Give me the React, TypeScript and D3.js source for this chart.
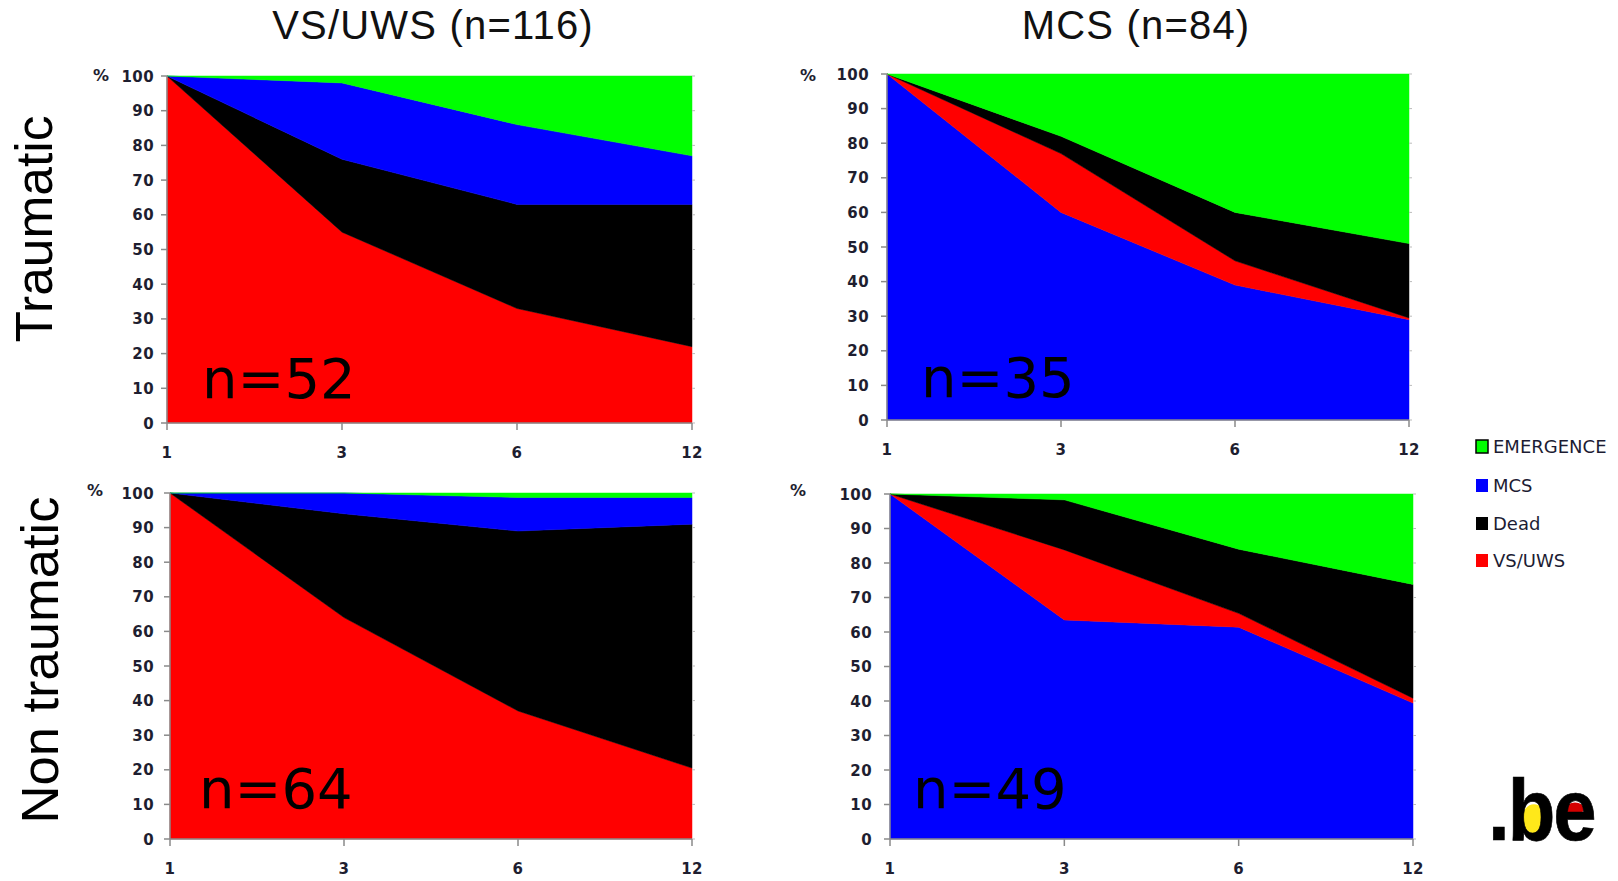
import React from "react";
import * as d3 from "d3";

// ---- data ----
const months = ["1", "3", "6", "12"];
const yTicks = [0, 10, 20, 30, 40, 50, 60, 70, 80, 90, 100];

const seriesNames = ["EMERGENCE", "MCS", "Dead", "VS/UWS"];
const seriesColors: Record<string, string> = {
  EMERGENCE: "#00ff00",
  MCS: "#0000ff",
  Dead: "#000000",
  "VS/UWS": "#ff0000",
};

// VS/UWS at entry, traumatic (n=52)
const trVsVs = [100, 55, 33, 22];
const trVsDead = [0, 21, 30, 41];
const trVsMcs = [0, 22, 23, 14];
const trVsEm = [0, 2, 14, 23];

// MCS at entry, traumatic (n=35)
const trMcsMcs = [100, 60, 39, 29];
const trMcsVs = [0, 17, 7, 0.5];
const trMcsDead = [0, 5, 14, 21.5];
const trMcsEm = [0, 18, 40, 49];

// VS/UWS at entry, non traumatic (n=64)
const ntVsVs = [100, 64, 37, 20.5];
const ntVsDead = [0, 30, 52, 70.5];
const ntVsMcs = [0, 6, 9.7, 7.7];
const ntVsEm = [0, 0, 1.3, 1.3];

// MCS at entry, non traumatic (n=49)
const ntMcsMcs = [100, 63.5, 61.4, 39.4];
const ntMcsVs = [0, 20.3, 4, 1.4];
const ntMcsDead = [0, 14.5, 18.6, 33];
const ntMcsEm = [0, 1.7, 16, 26.2];

const colTitles = ["VS/UWS (n=116)", "MCS (n=84)"];
const rowTitles = ["Traumatic", "Non traumatic"];

type Series = { name: string; values: number[] };

type PanelProps = {
  left: number;
  right: number;
  top: number;
  bottom: number;
  series: Series[]; // bottom -> top
  nLabel: string;
  nX: number;
  nY: number;
  pctX: number;
  pctY: number;
  labelGap: number;
};

const axisColor = "#8a8a8a";
const labelColor = "#1e1e30";
const tickFont = "'DejaVu Sans', Verdana, sans-serif";

function Panel(p: PanelProps) {
  const x = d3.scalePoint<string>().domain(months).range([p.left, p.right]);
  const y = d3.scaleLinear().domain([0, 100]).range([p.bottom, p.top]);
  const table = months.map((m, i) => {
    const row: Record<string, any> = { month: m };
    p.series.forEach((s) => (row[s.name] = s.values[i]));
    return row;
  });
  const stack = d3.stack<Record<string, any>>().keys(p.series.map((s) => s.name));
  const layers = stack(table);
  const area = d3
    .area<any>()
    .x((d) => x(d.data.month) as number)
    .y0((d) => y(d[0]))
    .y1((d) => y(d[1]));

  return (
    <g>
      {layers.map((l) => (
        <path key={l.key} d={area(l) || ""} fill={seriesColors[l.key]} stroke={seriesColors[l.key]} strokeWidth={0.5} />
      ))}
      {/* y axis */}
      <line x1={p.left} x2={p.left} y1={y(0)} y2={y(100)} stroke={axisColor} strokeWidth={1.5} />
      {yTicks.map((t) => (
        <g key={t}>
          <line x1={p.left - 6} x2={p.left} y1={y(t)} y2={y(t)} stroke={axisColor} strokeWidth={1.5} />
          <line x1={p.right} x2={p.right + 3} y1={y(t)} y2={y(t)} stroke="#bbbbbb" strokeWidth={1} />
          <text
            x={p.left - p.labelGap}
            y={y(t) + 5.5}
            textAnchor="end"
            fontFamily={tickFont}
            fontWeight="bold"
            fontSize={15}
            letterSpacing={0.4}
            fill={labelColor}
          >
            {t}
          </text>
        </g>
      ))}
      {/* x axis */}
      <line x1={p.left} x2={p.right} y1={y(0)} y2={y(0)} stroke={axisColor} strokeWidth={1.5} />
      {months.map((m) => (
        <g key={m}>
          <line x1={x(m)} x2={x(m)} y1={y(0)} y2={y(0) + 7} stroke={axisColor} strokeWidth={1.5} />
          <text
            x={x(m)}
            y={y(0) + 35}
            textAnchor="middle"
            fontFamily={tickFont}
            fontWeight="bold"
            fontSize={15}
            letterSpacing={0.4}
            fill={labelColor}
          >
            {m}
          </text>
        </g>
      ))}
      <text x={p.pctX} y={p.pctY} fontFamily={tickFont} fontWeight="bold" fontSize={16} fill={labelColor}>
        %
      </text>
      <text x={p.nX} y={p.nY} fontFamily="'DejaVu Sans', Verdana, sans-serif" fontSize={56} fill="#000">
        {p.nLabel}
      </text>
    </g>
  );
}

export default function App() {
  const W = 1618;
  const H = 881;
  const legendY = [447, 486, 524, 561];
  return (
    <svg width={W} height={H} style={{ position: "absolute", left: 0, top: 0, background: "#fff" }}>
      <rect x={0} y={0} width={W} height={H} fill="#fff" />
      {/* column titles */}
      <text x={433} y={39} textAnchor="middle" fontFamily="'Liberation Sans', Arial, sans-serif" fontSize={40} letterSpacing={1.2} fill="#111">
        {colTitles[0]}
      </text>
      <text x={1136} y={39} textAnchor="middle" fontFamily="'Liberation Sans', Arial, sans-serif" fontSize={40} letterSpacing={1.2} fill="#111">
        {colTitles[1]}
      </text>
      {/* row titles */}
      <text transform="translate(52,229) rotate(-90)" textAnchor="middle" fontFamily="'Liberation Sans', Arial, sans-serif" fontSize={51.5} fill="#000">
        {rowTitles[0]}
      </text>
      <text transform="translate(58,660) rotate(-90)" textAnchor="middle" fontFamily="'Liberation Sans', Arial, sans-serif" fontSize={52.5} fill="#000">
        {rowTitles[1]}
      </text>

      <Panel
        left={167} right={692} top={76} bottom={423}
        series={[
          { name: "VS/UWS", values: trVsVs },
          { name: "Dead", values: trVsDead },
          { name: "MCS", values: trVsMcs },
          { name: "EMERGENCE", values: trVsEm },
        ]}
        nLabel="n=52" nX={202} nY={398} pctX={93} pctY={81} labelGap={13}
      />
      <Panel
        left={887} right={1409} top={74} bottom={420}
        series={[
          { name: "MCS", values: trMcsMcs },
          { name: "VS/UWS", values: trMcsVs },
          { name: "Dead", values: trMcsDead },
          { name: "EMERGENCE", values: trMcsEm },
        ]}
        nLabel="n=35" nX={921} nY={397} pctX={800} pctY={81} labelGap={18}
      />
      <Panel
        left={170} right={692} top={493} bottom={839}
        series={[
          { name: "VS/UWS", values: ntVsVs },
          { name: "Dead", values: ntVsDead },
          { name: "MCS", values: ntVsMcs },
          { name: "EMERGENCE", values: ntVsEm },
        ]}
        nLabel="n=64" nX={199} nY={808} pctX={87} pctY={496} labelGap={16}
      />
      <Panel
        left={890} right={1413} top={494} bottom={839}
        series={[
          { name: "MCS", values: ntMcsMcs },
          { name: "VS/UWS", values: ntMcsVs },
          { name: "Dead", values: ntMcsDead },
          { name: "EMERGENCE", values: ntMcsEm },
        ]}
        nLabel="n=49" nX={913} nY={808} pctX={790} pctY={496} labelGap={18}
      />

      {/* legend */}
      {seriesNames.map((s, i) => (
        <g key={s}>
          <rect
            x={1476} y={legendY[i] - 7} width={12} height={13}
            fill={seriesColors[s]}
            stroke={i === 0 ? "#000" : "none"}
            strokeWidth={1.5}
          />
          <text x={1493} y={legendY[i] + 6} fontFamily="'DejaVu Sans', Tahoma, sans-serif" fontSize={18} fill="#1c1c33">
            {s}
          </text>
        </g>
      ))}

      {/* .be logo */}
      <g transform="translate(1488,840) scale(1,1.12)">
        <ellipse cx={46} cy={-19} rx={12} ry={13} fill="#ffe81a" />
        <ellipse cx={87} cy={-28} rx={9} ry={5.5} fill="#d40000" />
        <text x={0} y={0} fontFamily="'Liberation Sans', Arial, sans-serif" fontWeight="bold" fontSize={78} letterSpacing={-2} fill="#000" stroke="#000" strokeWidth={0.6}>
          .be
        </text>
      </g>
    </svg>
  );
}
